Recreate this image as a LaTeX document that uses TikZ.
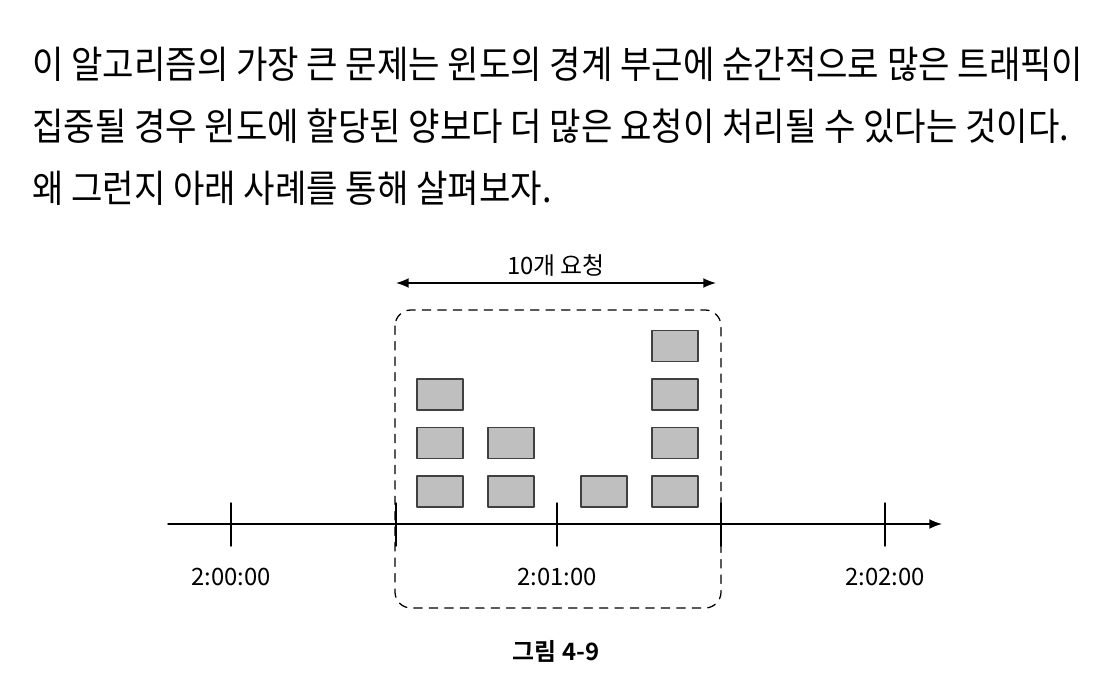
\documentclass[tikz,border=0pt]{standalone}
\usepackage{fontspec}
\setmainfont{Noto Sans CJK KR}
\newfontfamily\bodyfont[FakeStretch=0.9]{Noto Sans CJK KR}
\newfontfamily\capfont{Noto Sans CJK KR Bold}
\usetikzlibrary{positioning,arrows.meta,calc}
\tikzset{
  reqbox/.style={draw=black!75,fill=gray!50,line width=0.8pt,minimum width=46*0.025cm,minimum height=31*0.025cm,inner sep=0pt},
  timelabel/.style={font=\fontsize{17}{19}\selectfont,inner sep=0pt},
  bodyline/.style={anchor=west,inner sep=0pt,font=\bodyfont\fontsize{27}{30}\selectfont}
}
\begin{document}
\begin{tikzpicture}[x=0.025cm,y=-0.025cm,line cap=round,line join=round,>=latex]
  \useasboundingbox (0,0) rectangle (1108,694);
  \node[bodyline] (line1) at (32,64) {이 알고리즘의 가장 큰 문제는 윈도의 경계 부근에 순간적으로 많은 트래픽이};
  \node[bodyline] (line2) at (32,126) {집중될 경우 윈도에 할당된 양보다 더 많은 요청이 처리될 수 있다는 것이다.};
  \node[bodyline] (line3) at (32,188) {왜 그런지 아래 사례를 통해 살펴보자.};
  \coordinate (axstart) at (168,524);
  \coordinate (axend) at (942,524);
  \draw[line width=1pt,-{Latex[length=9pt,width=7pt]}] (axstart) -- (axend);
  \foreach \x/\name in {231/t0,396/ta,557/t1,721/tb,885/t2}
    \draw[line width=1pt] (\x,503) coordinate (\name top) -- (\x,546) coordinate (\name bot);
  \node[timelabel] (lab0) at (231,577) {2:00:00};
  \node[timelabel] (lab1) at (557,577) {2:01:00};
  \node[timelabel] (lab2) at (885,577) {2:02:00};
  \draw[dashed,dash pattern=on 6pt off 5pt,line width=0.9pt,rounded corners=16*0.025cm] (395,310) rectangle (721,608);
  \foreach \col/\x/\n in {1/440/3,2/511/2,3/604/1,4/675/4}
    \foreach \row in {1,...,\n}
      \node[reqbox] (req\col-\row) at (\x,{491.5-48.5*(\row-1)}) {};
  \coordinate (winl) at (396,283);
  \coordinate (winr) at (716,283);
  \draw[line width=1pt,{Latex[length=9pt,width=7pt]}-{Latex[length=9pt,width=7pt]}] (winl) -- (winr);
  \node[timelabel,above=6*0.025cm] (winlabel) at ($(winl)!0.5!(winr)$) {10개 요청};
  \node[font=\capfont\fontsize{17}{19}\selectfont,inner sep=0pt] (caption) at (556,651) {그림 4-9};
\end{tikzpicture}
\end{document}
